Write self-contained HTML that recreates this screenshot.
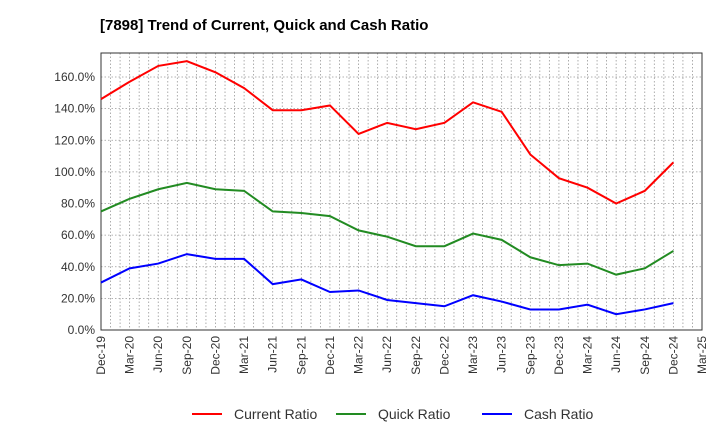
<!DOCTYPE html>
<html><head><meta charset="utf-8"><style>body{margin:0;background:#fff}svg{display:block;font-family:"Liberation Sans",sans-serif}</style></head>
<body>
<svg id="c" width="720" height="440">
<text x="100" y="30" font-size="15" font-weight="bold">[7898]  Trend of Current, Quick and Cash Ratio</text>
</svg>
<script>
const categories=["Dec-19","Mar-20","Jun-20","Sep-20","Dec-20","Mar-21","Jun-21","Sep-21","Dec-21","Mar-22","Jun-22","Sep-22","Dec-22","Mar-23","Jun-23","Sep-23","Dec-23","Mar-24","Jun-24","Sep-24","Dec-24","Mar-25"];
const currentRatio=[146,157,167,170,163,153,139,139,142,124,131,127,131,144,138,111,96,90,80,88,106];
const quickRatio=[75,83,89,93,89,88,75,74,72,63,59,53,53,61,57,46,41,42,35,39,50];
const cashRatio=[30,39,42,48,45,45,29,32,24,25,19,17,15,22,18,13,13,16,10,13,17];
const yTicks=[0,20,40,60,80,100,120,140,160];
const seriesNames=["Current Ratio","Quick Ratio","Cash Ratio"];
const L=101,R=702,T=53,B=330;
const ns="http://www.w3.org/2000/svg",svg=document.getElementById('c');
const xs=i=>L+(R-L)*i/(categories.length-1);
const ys=v=>B-v*(B-77)/160;
function mk(t,a,p){const e=document.createElementNS(ns,t);for(const k in a)e.setAttribute(k,a[k]);(p||svg).appendChild(e);return e;}
const g=mk('g',{});


for(let m=0;m<=(categories.length-1)*3;m++){const x=L+(R-L)*m/((categories.length-1)*3);mk('line',{x1:x,x2:x,y1:T,y2:B,stroke:'#999','stroke-dasharray':'1.5,2','stroke-width':0.8},g);}
yTicks.forEach(v=>{mk('line',{x1:L,x2:R,y1:ys(v),y2:ys(v),stroke:'#999','stroke-dasharray':'1.5,2','stroke-width':0.8},g);
const t=mk('text',{x:L-6,y:ys(v)+4,'text-anchor':'end','font-size':12,fill:'#333'});t.textContent=v.toFixed(1)+'%';

});
categories.forEach((c,i)=>{const x=xs(i);const t=mk('text',{transform:`translate(${x+4},${B+6}) rotate(-90)`,'text-anchor':'end','font-size':12,fill:'#333'});t.textContent=c;

});
const fr=mk('rect',{x:L,y:T,width:R-L,height:B-T,fill:'none',stroke:'#333'});


const colors=['#ff0000','#228b22','#0000ff'];
[currentRatio,quickRatio,cashRatio].forEach((s,k)=>{const p=mk('polyline',{points:s.map((v,i)=>xs(i)+','+ys(v)).join(' '),fill:'none',stroke:colors[k],'stroke-width':2});


const lx=[192,336,482][k];
const lg=mk('g',{});


mk('line',{x1:lx,x2:lx+30,y1:414,y2:414,stroke:colors[k],'stroke-width':2},lg);
const t=mk('text',{x:lx+42,y:419,'font-size':14,fill:'#333'},lg);t.textContent=seriesNames[k];});
</script>
</body></html>
